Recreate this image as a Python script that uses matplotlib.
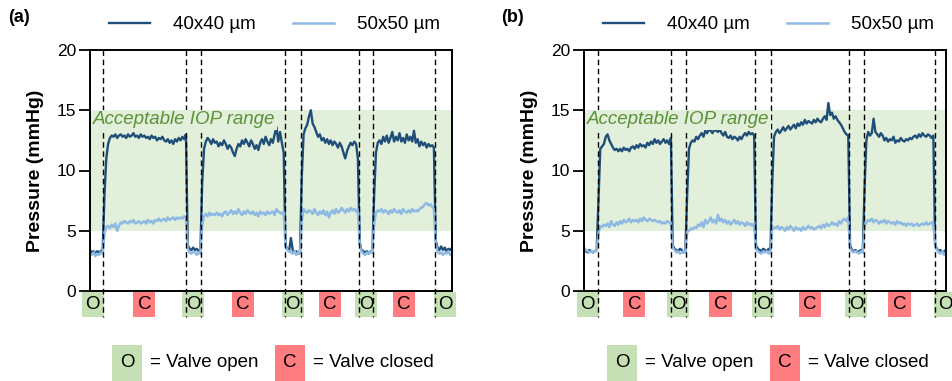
import numpy as np
import matplotlib
matplotlib.use("Agg")
import matplotlib.pyplot as plt
from matplotlib.patches import Rectangle
import matplotlib.transforms as mtransforms

plt.rcParams['font.family'] = ['Liberation Sans', 'DejaVu Sans']

# ---------------- data ----------------
sample_step = 0.5  # time units between samples

a_40 = [
    3.4, 3.2, 3.3, 3.1, 3.3, 3.2, 3.3, 3.4, 8.0, 11.0,
    12.2, 12.7, 12.9, 12.8, 13.0, 12.7, 12.9, 13.0, 12.8, 12.9,
    12.7, 13.0, 12.8, 12.9, 13.1, 12.8, 12.9, 12.7, 13.0, 12.8,
    12.9, 12.7, 12.8, 12.6, 12.9, 12.7, 12.8, 12.5, 12.7, 12.6,
    12.8, 12.5, 12.4, 12.6, 12.3, 12.5, 12.2, 12.6, 12.4, 12.7,
    12.5, 12.8, 12.6, 13.0, 3.8, 3.5, 3.4, 3.6, 3.4, 3.5,
    3.3, 3.4, 9.0, 11.8, 12.4, 12.7, 12.5, 12.2, 12.6, 12.3,
    12.4, 12.0, 12.3, 12.1, 12.5, 12.2, 11.8, 12.1, 11.9, 11.5,
    11.2, 11.8, 12.2, 12.0, 12.5, 12.2, 12.6, 12.3, 12.0, 12.5,
    12.2, 11.8, 12.1, 11.7, 12.3, 12.6, 12.2, 12.8, 12.4, 12.1,
    12.6, 12.3, 13.0, 13.6, 12.4, 13.2, 12.3, 11.5, 3.8, 3.5,
    3.3, 4.4, 3.4, 3.2, 3.3, 3.1, 3.2, 9.5, 13.0, 13.5,
    13.8, 14.5, 15.0, 13.9, 13.6, 13.2, 12.8, 13.0, 12.5, 12.7,
    12.3, 12.6, 12.2, 12.5, 12.1, 12.4, 12.2, 11.9, 12.3, 12.0,
    11.5, 11.0, 11.6, 12.0, 12.3, 12.1, 12.4, 12.2, 11.0, 4.0,
    3.4, 3.3, 3.2, 3.3, 3.1, 3.3, 3.2, 8.0, 11.5, 12.3,
    12.5, 12.2, 12.8, 12.4, 12.9, 12.3, 12.7, 13.2, 12.4, 12.8,
    12.5, 13.1, 12.4, 12.7, 12.3, 13.0, 12.5, 12.8, 12.4, 13.3,
    12.3, 12.6, 12.0, 12.4, 12.1, 12.3, 11.9, 12.2, 12.0, 12.1,
    11.9, 4.2, 3.6, 3.4, 3.7, 3.4, 3.6, 3.3, 3.5, 3.4,
    3.6,
]

a_50 = [
    3.1, 3.0, 3.2, 2.9, 3.1, 3.0, 3.2, 3.1, 4.8, 5.3,
    5.4, 5.2, 5.5, 5.3, 5.6, 5.0, 5.4, 5.7, 5.6, 5.8,
    5.7, 5.6, 5.8, 5.7, 5.9, 5.6, 5.7, 5.8, 5.6, 5.7,
    5.8, 5.6, 5.9, 5.7, 5.8, 5.6, 5.9, 5.8, 6.0, 5.8,
    5.9, 6.0, 5.8, 6.1, 5.9, 6.0, 6.1, 5.9, 6.1, 6.0,
    6.1, 6.0, 6.2, 6.1, 3.5, 3.2, 3.1, 3.3, 3.2, 3.0,
    3.2, 3.1, 5.5, 6.2, 6.4, 6.2, 6.5, 6.3, 6.4, 6.3,
    6.5, 6.3, 6.4, 6.2, 6.5, 6.6, 6.3, 6.5, 6.7, 6.4,
    6.6, 6.4, 6.8, 6.5, 6.3, 6.6, 6.4, 6.7, 6.5, 6.4,
    6.6, 6.3, 6.5, 6.2, 6.6, 6.4, 6.5, 6.3, 6.6, 6.4,
    6.5, 6.6, 6.3, 6.8, 6.6, 6.5, 6.4, 6.6, 3.8, 3.4,
    3.3, 3.2, 3.1, 3.3, 3.0, 3.2, 3.1, 5.8, 6.8, 6.6,
    6.5, 6.7, 6.6, 6.4, 6.8, 6.5, 6.3, 6.6, 6.4, 6.7,
    6.3, 6.6, 6.1, 6.5, 6.7, 6.4, 6.8, 6.5, 6.6, 6.9,
    6.7, 6.5, 6.8, 6.6, 6.9, 6.7, 6.8, 6.6, 6.8, 3.9,
    3.3, 3.1, 3.0, 3.2, 3.1, 3.3, 3.2, 5.6, 6.5, 6.7,
    6.6, 6.8, 6.5, 6.7, 6.6, 6.4, 6.7, 6.5, 6.8, 6.6,
    6.5, 6.7, 6.4, 6.8, 6.6, 6.5, 6.7, 6.5, 6.8, 6.6,
    6.7, 6.6, 6.8, 6.9, 7.0, 7.2, 7.3, 7.1, 7.2, 7.0,
    6.8, 4.0, 3.3, 3.1, 3.2, 3.0, 3.2, 3.1, 3.3, 3.0,
    3.1,
]

b_40 = [
    3.4, 3.3, 3.2, 3.4, 3.3, 3.2, 3.3, 3.4, 7.5, 11.8,
    12.0, 12.2, 12.8, 13.0, 12.5, 12.2, 11.9, 11.7, 11.8, 11.6,
    11.8, 11.6, 11.9, 11.7, 11.8, 11.6, 11.9, 12.0, 11.8, 12.1,
    11.9, 12.2, 12.0, 12.1, 11.9, 12.3, 12.1, 12.4, 12.2, 12.6,
    12.3, 12.5, 12.2, 12.4, 12.6, 12.3, 12.5, 12.2, 12.7, 3.8,
    3.5, 3.4, 3.3, 3.5, 3.4, 3.2, 3.3, 8.0, 11.8, 12.3,
    12.5, 12.4, 12.8, 12.6, 12.9, 13.1, 12.8, 13.3, 13.1, 13.4,
    13.3, 13.1, 13.4, 13.3, 13.2, 13.4, 13.1, 12.9, 13.2, 12.8,
    12.7, 12.9, 12.6, 12.8, 12.7, 12.5, 12.8, 12.6, 12.9, 13.1,
    12.9, 13.2, 13.0, 13.1, 12.9, 3.8, 3.5, 3.4, 3.3, 3.5,
    3.4, 3.3, 3.5, 3.4, 9.0, 12.8, 13.2, 13.4, 13.1, 13.3,
    13.6, 13.3, 13.5, 13.7, 13.4, 13.6, 13.8, 13.5, 13.9, 13.7,
    14.0, 13.8, 14.2, 13.9, 14.1, 14.0, 13.9, 14.2, 14.0, 14.3,
    14.1, 14.0, 14.3, 14.5, 14.2, 15.6, 14.6, 14.8, 14.3, 14.5,
    14.2, 14.0, 13.8, 13.5, 13.2, 13.0, 12.9, 3.8, 3.4, 3.3,
    3.4, 3.2, 3.3, 3.4, 3.2, 8.5, 12.5, 13.2, 12.9, 13.1,
    14.3, 13.2, 13.0, 12.8, 13.1, 12.9, 12.5, 12.7, 12.4, 12.6,
    12.5, 12.8, 12.3, 12.5, 12.4, 12.7, 12.5, 12.4, 12.6, 12.5,
    12.7, 12.6, 12.8, 12.9, 12.7, 13.0, 12.8, 13.1, 12.9, 12.8,
    13.0, 12.9, 12.7, 12.9, 3.8, 3.5, 3.3, 3.4, 3.2, 3.3,
    3.4,
]

b_50 = [
    3.6, 3.4, 3.3, 3.2, 3.3, 3.2, 3.3, 3.4, 4.8, 5.4,
    5.3, 5.5, 5.4, 5.6, 5.3, 5.8, 5.5, 5.4, 5.7, 5.5,
    5.8, 5.6, 5.9, 5.7, 5.8, 6.0, 5.7, 5.9, 5.8, 5.9,
    5.7, 6.0, 5.8, 6.1, 5.9, 5.8, 6.0, 5.9, 5.8, 5.9,
    5.8, 5.7, 5.8, 5.6, 5.7, 5.6, 5.8, 5.7, 5.6, 3.6,
    3.4, 3.2, 3.3, 3.1, 3.2, 3.3, 3.2, 4.9, 5.0, 5.2,
    5.1, 5.3, 5.2, 5.5, 5.4, 5.7, 5.3, 5.9, 5.6, 5.8,
    6.1, 5.7, 5.9, 5.6, 6.3, 5.8, 6.0, 5.7, 5.9, 5.6,
    5.8, 5.5, 5.7, 5.9, 5.6, 5.8, 5.5, 5.7, 5.6, 5.4,
    5.7, 5.5, 5.6, 5.4, 5.6, 3.5, 3.3, 3.2, 3.1, 3.3,
    3.2, 3.3, 3.1, 3.2, 5.1, 5.3, 5.2, 5.4, 5.1, 5.3,
    5.2, 5.0, 5.3, 5.1, 5.4, 5.2, 5.0, 5.3, 5.1, 5.2,
    5.0, 5.3, 5.1, 5.2, 5.4, 5.2, 5.3, 5.1, 5.2, 5.3,
    5.4, 5.2, 5.5, 5.3, 5.6, 5.4, 5.5, 5.7, 5.5, 5.6,
    5.4, 5.8, 5.6, 5.9, 6.0, 5.8, 6.1, 3.5, 3.3, 3.2,
    3.3, 3.2, 3.1, 3.3, 3.2, 5.4, 5.7, 5.9, 5.8, 6.0,
    5.7, 5.9, 5.8, 5.6, 5.8, 5.7, 5.9, 5.6, 5.8, 5.7,
    5.6, 5.7, 5.5, 5.8, 5.6, 5.7, 5.5, 5.6, 5.4, 5.6,
    5.5, 5.6, 5.4, 5.5, 5.6, 5.4, 5.5, 5.6, 5.5, 5.7,
    5.5, 5.6, 5.7, 5.5, 3.8, 3.4, 3.2, 3.1, 3.3, 3.0,
    3.2,
]

# valve switching times (dashed lines)
a_switch = [3.5, 26.5, 30.6, 53.8, 58.2, 74.4, 78.3, 95.3]
b_switch = [3.8, 24.0, 28.1, 47.3, 51.6, 73.2, 77.3, 97.0]
valve_states = ['O', 'C', 'O', 'C', 'O', 'C', 'O', 'C', 'O']

series_labels = ['40x40 \u00b5m', '50x50 \u00b5m']
panel_labels = ['(a)', '(b)']
iop_range = (5, 15)
y_ticks = [0, 5, 10, 15, 20]

# ---------------- styles ----------------
C_DARK = '#1f4e79'
C_LIGHT = '#8db9e3'
C_BAND = '#e2efda'
C_OPEN = '#c5e0b4'
C_CLOSED = '#ff7c80'
C_TEXT_GREEN = '#5a9238'
FS = 13.5

W, H = 953, 381
fig = plt.figure(figsize=(W / 100, H / 100), dpi=100)

def px_rect(x0, y0, x1, y1):
    return [x0 / W, 1 - y1 / H, (x1 - x0) / W, (y1 - y0) / H]

ax_a = fig.add_axes(px_rect(90, 50, 452, 291))
ax_b = fig.add_axes(px_rect(584, 50, 946, 291))

box_w = 6.1            # data units
box_y0, box_y1 = -0.108, -0.004   # axes units


def draw_panel(ax, d40, d50, switches, plabel, label_px):
    t40 = np.arange(len(d40)) * sample_step
    t50 = np.arange(len(d50)) * sample_step
    ax.set_xlim(0, 100)
    ax.set_ylim(0, 20)
    ax.axhspan(iop_range[0], iop_range[1], color=C_BAND, zorder=0, lw=0)
    l1, = ax.plot(t40, d40, color=C_DARK, lw=1.7, zorder=2)
    l2, = ax.plot(t50, d50, color=C_LIGHT, lw=1.8, zorder=2.1)

    trans = mtransforms.blended_transform_factory(ax.transData, ax.transAxes)
    for s in switches:
        ax.plot([s, s], [1.0, box_y0], transform=trans, color='black', lw=1.0,
                dashes=(4, 2.6), clip_on=False, zorder=3)

    bounds = [0] + list(switches) + [100]
    half = box_w / 2
    for i, st in enumerate(valve_states):
        if i == 0:
            c = switches[0] + 0.3 - half
        elif i == len(valve_states) - 1:
            c = switches[-1] - 0.3 + half
        else:
            c = (bounds[i] + bounds[i + 1]) / 2
        col = C_OPEN if st == 'O' else C_CLOSED
        ax.add_patch(Rectangle((c - half, box_y0), box_w, box_y1 - box_y0,
                               transform=trans, facecolor=col, edgecolor='none',
                               clip_on=False, zorder=1))
        ax.text(c, (box_y0 + box_y1) / 2, st, transform=trans, ha='center',
                va='center', fontsize=FS, color='black', zorder=2)

    ax.text(0.8, 14.2, 'Acceptable IOP range', fontsize=FS, style='italic',
            color=C_TEXT_GREEN, ha='left', va='center', zorder=4,
            bbox=dict(facecolor=C_BAND, edgecolor='none', pad=1.0))

    ax.set_yticks(y_ticks)
    ax.set_xticks([])
    ax.tick_params(axis='y', length=8, width=1.3, pad=2, labelsize=12.5)
    for sp in ax.spines.values():
        sp.set_linewidth(1.4)
        sp.set_zorder(5)
    ax.set_ylabel('Pressure (mmHg)', fontsize=14, fontweight='bold', labelpad=9)

    ax.legend([l1, l2], series_labels, loc='center', bbox_to_anchor=(0.51, 1.104),
              ncol=2, frameon=False, fontsize=FS, handlelength=2.2,
              handletextpad=1.2, columnspacing=2.0, borderpad=0)
    fig.text(label_px[0] / W, 1 - label_px[1] / H, plabel, fontsize=13,
             fontweight='bold', ha='left', va='center')


draw_panel(ax_a, a_40, a_50, a_switch, panel_labels[0], (8, 18))
draw_panel(ax_b, b_40, b_50, b_switch, panel_labels[1], (501, 18))


def key(x_open, x_closed):
    y0, y1 = 345, 381
    for x, st, col, txt in [(x_open, 'O', C_OPEN, '= Valve open'),
                            (x_closed, 'C', C_CLOSED, '= Valve closed')]:
        fig.patches.append(Rectangle((x / W, 1 - y1 / H), 30 / W, (y1 - y0) / H,
                                     transform=fig.transFigure, facecolor=col,
                                     edgecolor='none'))
        fig.text((x + 15) / W, 1 - 362.5 / H, st, fontsize=FS, ha='center', va='center')
        fig.text((x + 38) / W, 1 - 362.5 / H, txt, fontsize=FS, ha='left', va='center')


key(112, 275)
key(607, 770)

fig.savefig('out.png', dpi=100)
